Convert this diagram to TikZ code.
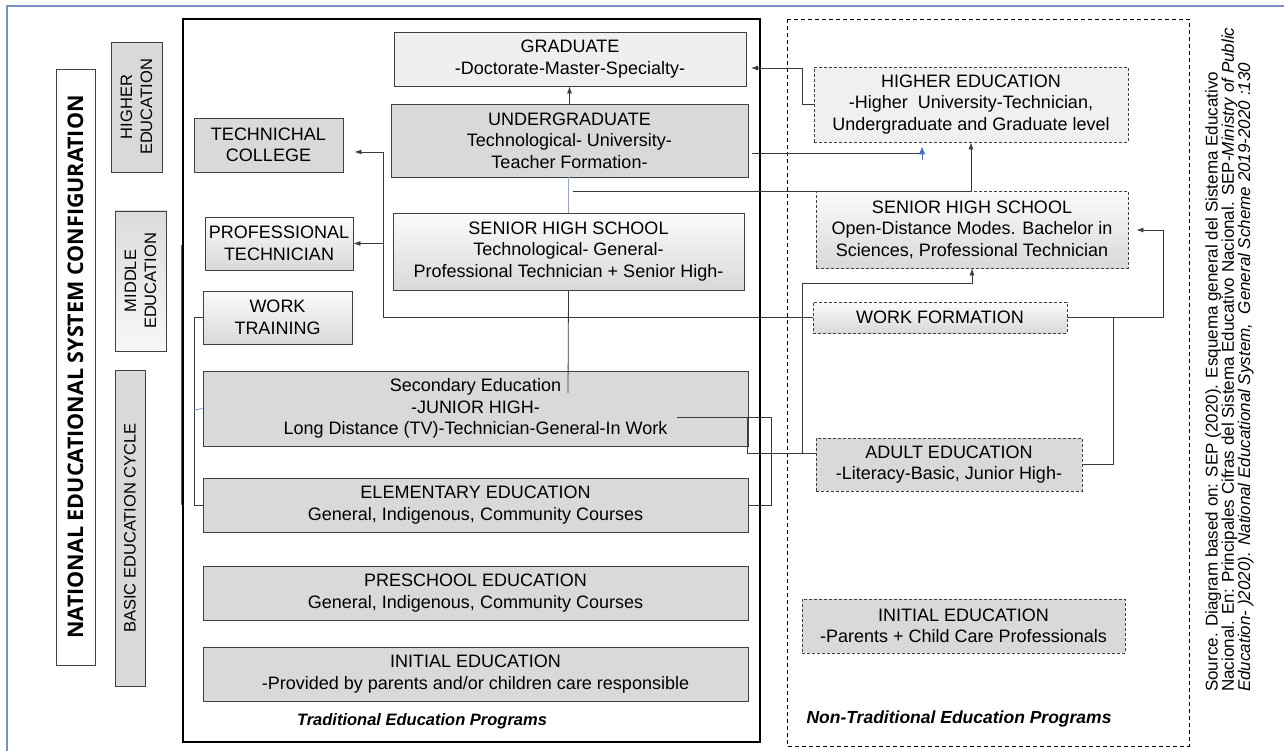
\documentclass[tikz,border=0pt]{standalone}
\usepackage{fontspec}
\setmainfont{Liberation Sans}
\newfontfamily\titlefont{Open Sans}
\usetikzlibrary{arrows.meta}

\definecolor{boxline}{HTML}{404040}
\definecolor{connline}{HTML}{3A3A3A}
\definecolor{hatchgray}{HTML}{D9D9D9}
\definecolor{dotgray}{HTML}{EFEFEF}
\definecolor{frameblue}{HTML}{7A92C0}
\definecolor{linkblue}{HTML}{4472C4}
\definecolor{paleblue}{HTML}{8EAADB}

\begin{document}
\begin{tikzpicture}[x=1pt,y=-1pt,
  every node/.style={inner sep=0pt, align=center, font=\fontsize{18}{21.5}\selectfont},
  box/.style={draw=boxline, line width=0.9pt},
  hatchbox/.style={box, fill=hatchgray},
  gradbox/.style={box, top color=gray!3, bottom color=gray!30},
  dotbox/.style={box, fill=dotgray},
  ntline/.style={dash pattern=on 3pt off 2pt},
  conn/.style={draw=connline, line width=0.8pt},
  arr/.style={conn, -{Latex[length=7pt,width=5pt]}},
  sidelabel/.style={font=\fontsize{16.5}{20}\selectfont},
  progtitle/.style={font=\bfseries\itshape\fontsize{16.5}{20}\selectfont},
]

\useasboundingbox (0,0) rectangle (1284,751);

% outer frame
\draw[frameblue, line width=1.6pt] (7,760) -- (7,6) -- (1290,6);

% program frames
\draw[black, line width=1.2pt] (183,19) rectangle (760,742);
\draw[black, line width=0.9pt, dash pattern=on 4pt off 3pt] (787,19) rectangle (1189,746);
\draw[gray!70!black, line width=1pt] (181.5,245) -- (181.5,505);

% level labels on the left
\node[box, fill=white, rotate=90, minimum width=596pt, minimum height=39pt,
      font=\titlefont\bfseries\fontsize{21.5}{25}\selectfont] (nesc) at (75.5,367)
      {NATIONAL EDUCATIONAL SYSTEM CONFIGURATION};
\node[hatchbox, sidelabel, rotate=90, minimum width=130pt, minimum height=51pt] (lhe) at (136.5,107) {HIGHER\\EDUCATION};
\node[box, sidelabel, rotate=90, top color=gray!28, bottom color=gray!6, minimum width=140pt, minimum height=51pt] (lme) at (140.5,281) {MIDDLE\\EDUCATION};
\node[hatchbox, sidelabel, rotate=90, minimum width=316pt, minimum height=30pt] (lbe) at (130,528) {BASIC EDUCATION CYCLE};

% traditional programs
\node[dotbox, minimum width=352pt, minimum height=54pt] (grad) at (570,59) {GRADUATE\\-Doctorate-Master-Specialty-};
\node[hatchbox, minimum width=357pt, minimum height=73pt] (ugrad) at (569.5,140.5) {UNDERGRADUATE\\Technological- University-\\Teacher Formation-};
\node[gradbox, minimum width=351pt, minimum height=77pt] (shs) at (568.5,251.5) {SENIOR HIGH SCHOOL\\Technological- General-\\Professional Technician + Senior High-};
\node[hatchbox, minimum width=149pt, minimum height=54pt] (tcol) at (268.5,145) {TECHNICHAL\\COLLEGE};
\node[gradbox, minimum width=148pt, minimum height=53pt] (ptec) at (279,243.5) {PROFESSIONAL\\TECHNICIAN};
\node[gradbox, minimum width=149pt, minimum height=53pt] (wtr) at (277.5,317.5) {WORK\\TRAINING};
\node[hatchbox, minimum width=545pt, minimum height=75pt] (sec) at (475.5,408.5) {Secondary Education\\-JUNIOR HIGH-\\Long Distance (TV)-Technician-General-In Work};
\node[hatchbox, minimum width=545pt, minimum height=54pt] (elem) at (475.5,505) {ELEMENTARY EDUCATION\\General, Indigenous, Community Courses};
\node[hatchbox, minimum width=545pt, minimum height=54pt] (pre) at (475.5,593) {PRESCHOOL EDUCATION\\General, Indigenous, Community Courses};
\node[hatchbox, minimum width=545pt, minimum height=54pt] (init) at (475.5,674) {INITIAL EDUCATION\\-Provided by parents and/or children care responsible};
\node[progtitle] (tradlbl) at (422,721) {Traditional Education Programs};

% non-traditional programs
\node[dotbox, ntline, fill=gray!12, minimum width=314pt, minimum height=75pt] (nhe) at (971,104.5) {HIGHER EDUCATION\\-Higher\ \ University-Technician,\\Undergraduate and Graduate level};
\node[gradbox, ntline, minimum width=312pt, minimum height=77pt] (nshs) at (972,229.5) {SENIOR HIGH SCHOOL\\Open-Distance Modes. Bachelor in\\Sciences, Professional Technician};
\node[gradbox, ntline, minimum width=254pt, minimum height=31pt] (nwf) at (940,317.5) {WORK FORMATION};
\node[hatchbox, ntline, minimum width=266pt, minimum height=53pt] (nad) at (949,464.5) {ADULT EDUCATION\\-Literacy-Basic, Junior High-};
\node[hatchbox, ntline, minimum width=323pt, minimum height=54pt] (nin) at (963.5,626) {INITIAL EDUCATION\\-Parents + Child Care Professionals};
\node[progtitle, font=\bfseries\itshape\fontsize{17.5}{20}\selectfont] (ntradlbl) at (959,719) {Non-Traditional Education Programs};

% source note
\node[rotate=90, anchor=north west, align=left, font=\fontsize{17}{16.3}\selectfont] (src) at (1205,692)
  {Source. Diagram based on: SEP (2020). Esquema general del Sistema Educativo\\
   Nacional. En: Principales Cifras del Sistema Educativo Nacional. SEP-\textit{Ministry of Public}\\
   \textit{Education- )2020). National Educational System,\ \ General Scheme 2019-2020 :130}};

% junction points of the connectors
\coordinate (secin) at (568,393);
\coordinate (tcjoin) at (383,152);
\coordinate (ptjoin) at (383,243.5);
\coordinate (ugout) at (752,153);
\coordinate (hbjoin) at (922,153);
\coordinate (hbtail) at (922,160);
\coordinate (bjoin) at (573,191);
\coordinate (gtip) at (751,68);
\coordinate (gbend) at (802,68);
\coordinate (sjoin) at (677,417);
\coordinate (sbend) at (771,417);
\coordinate (sdrop) at (747,417);
\coordinate (adin) at (816,453);
\coordinate (abend) at (802,283);
\coordinate (wbend) at (1163,230);
\coordinate (abend2) at (1113,318);
\coordinate (wtbend) at (194,317.5);
\coordinate (bluetap) at (194,410);

% traditional connectors
\draw[arr] (ugrad.north) -- (ugrad.north |- grad.south);
\draw[paleblue, line width=0.9pt] (shs.north |- ugrad.south) -- (shs.north);
\draw[conn] (shs.south) -- (secin);
\draw[arr, shorten >=11pt] (nwf.west) -| (tcjoin) -- (tcol.east |- tcjoin);
\draw[arr] (ptjoin) -- (ptec.east);
\draw[conn] (wtr.west) -- (wtbend) |- (elem.west);
\draw[paleblue!70!linkblue, line width=0.8pt] (bluetap) -- (sec.west);
\draw[conn] (sjoin) -- (sbend) |- (elem.east);
\draw[conn] (sdrop) |- (adin);

% links to the non-traditional programs
\draw[conn] (ugout) -- (hbjoin);
\draw[linkblue, line width=1pt, -{Latex[length=8pt,width=7pt]}, shorten >=4pt] (hbtail) -- (hbtail |- nhe.south);
\draw[arr] (bjoin) -| (nhe.south);
\draw[arr] (nhe.west) -| (gbend) -- (gtip);
\draw[arr] (adin) -| (abend) -| (nshs.south);
\draw[arr, shorten >=8pt] (nwf.east) -| (wbend) -- (nshs.east |- wbend);
\draw[conn] (nad.east) -| (abend2);

\end{tikzpicture}
\end{document}
